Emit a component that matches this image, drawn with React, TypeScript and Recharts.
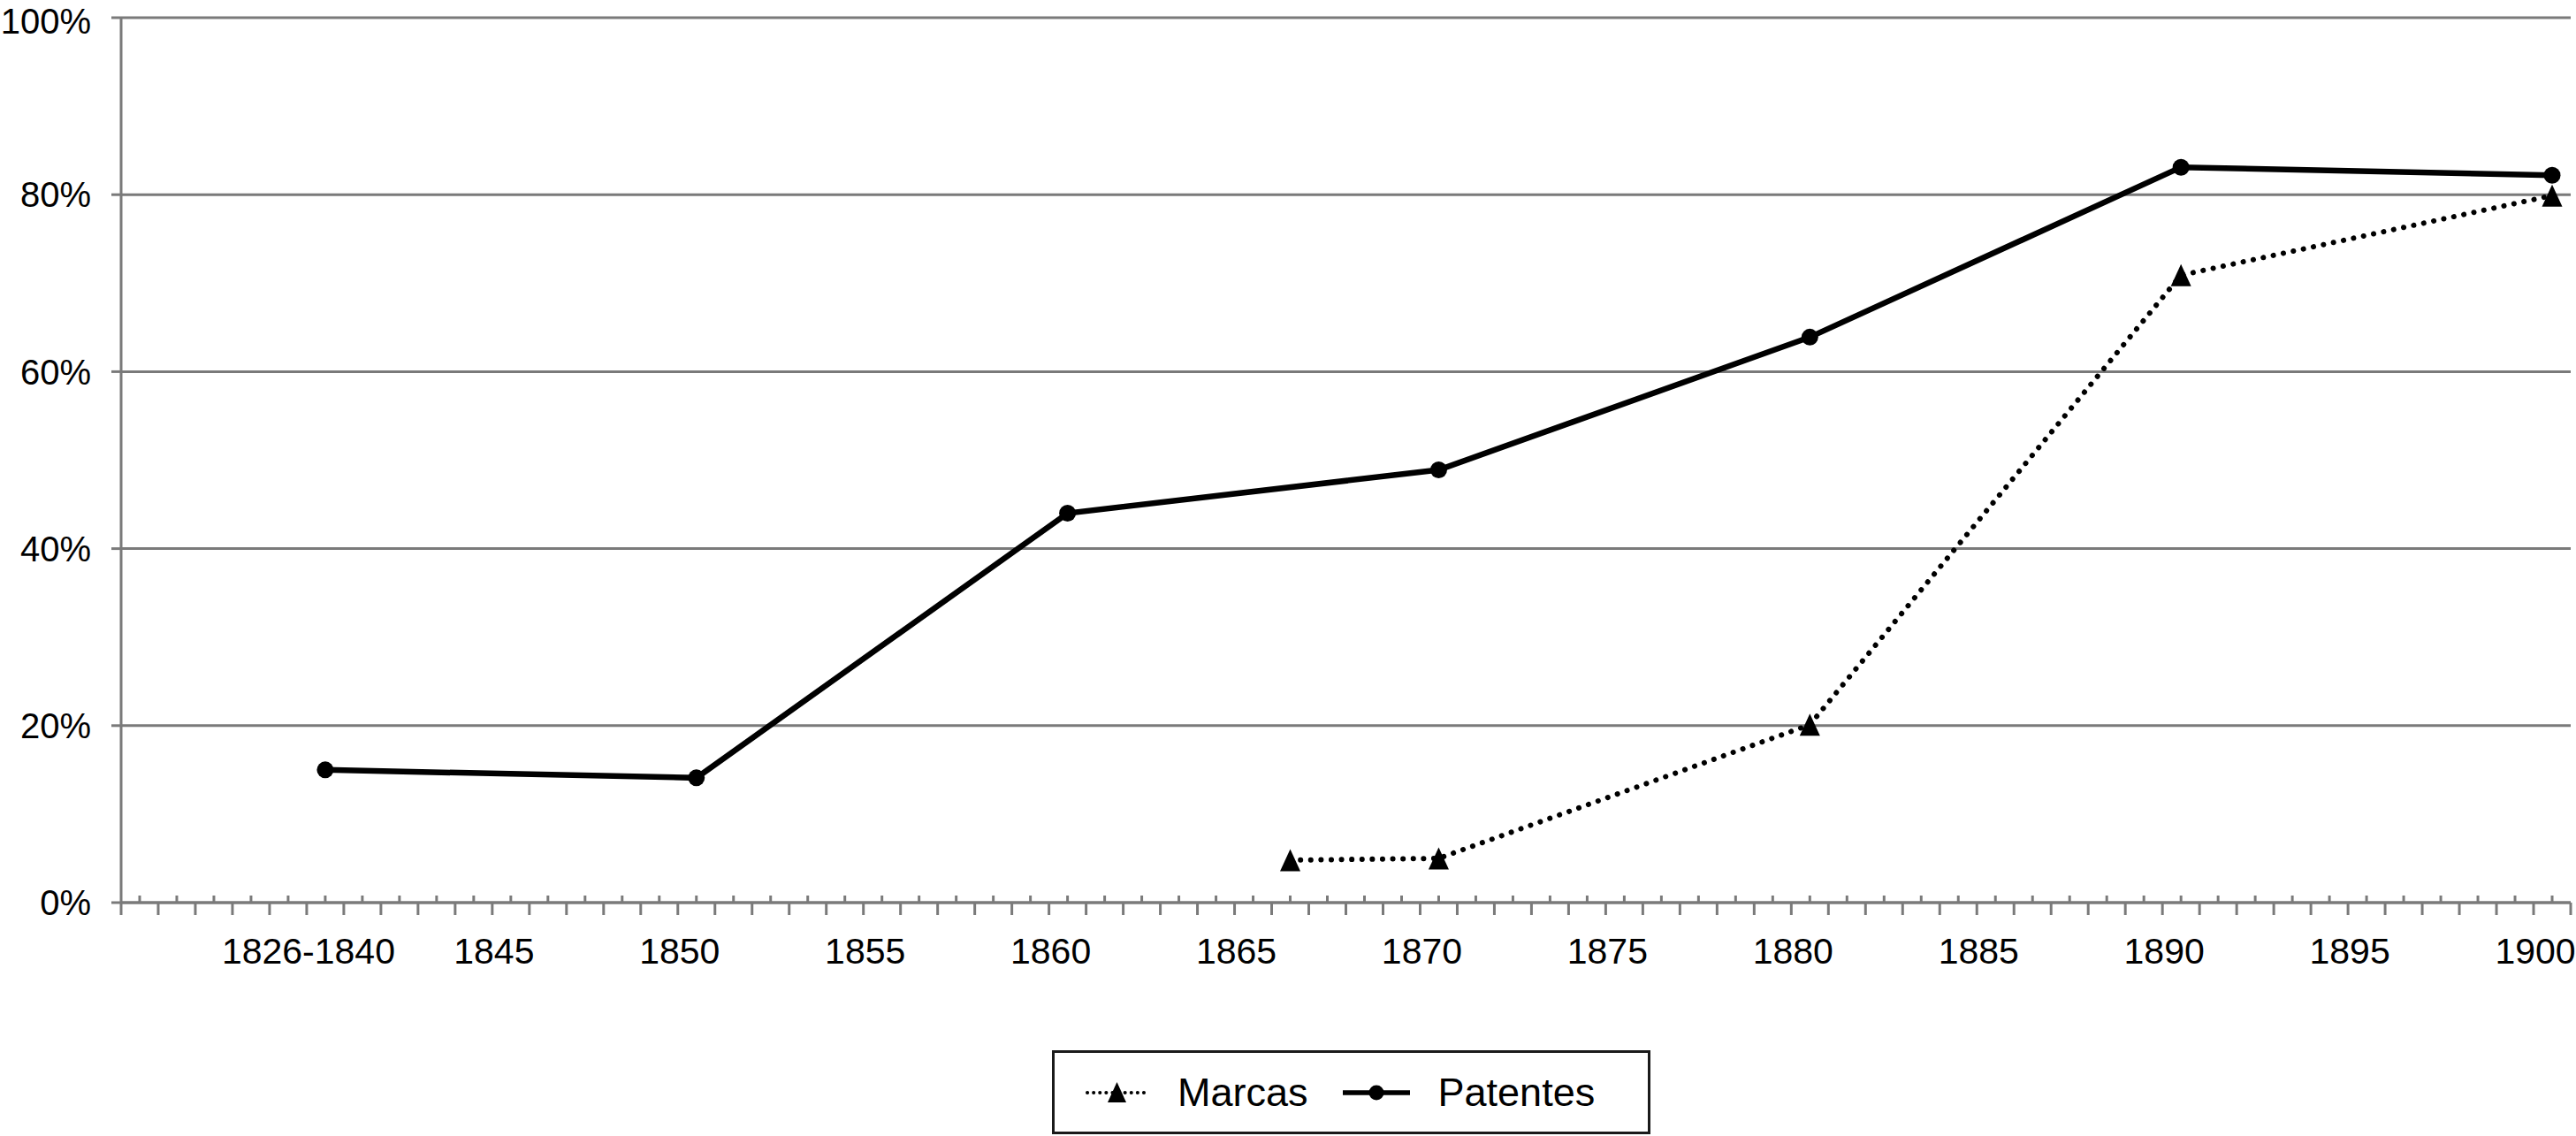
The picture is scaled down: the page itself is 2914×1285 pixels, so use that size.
import React from 'react';
import { LineChart, Line, XAxis, YAxis, CartesianGrid } from 'recharts';

// Patentes: solid line, circle markers
const patentYears = [1840, 1850, 1860, 1870, 1880, 1890, 1900];
const patentValues = [15.0, 14.1, 44.0, 48.9, 63.9, 83.1, 82.2];

// Marcas: dotted line, triangle markers
const markYears = [1866, 1870, 1880, 1890, 1900];
const markValues = [4.8, 5.0, 20.1, 70.9, 79.9];

// x labels (category year -> shown text)
const labelYears = [1840, 1845, 1850, 1855, 1860, 1865, 1870, 1875, 1880, 1885, 1890, 1895, 1900];
const labelTexts = ['1826-1840', '1845', '1850', '1855', '1860', '1865', '1870', '1875', '1880', '1885', '1890', '1895', '1900'];

const yTicks = [0, 20, 40, 60, 80, 100];

const firstYear = 1835;
const lastYear = 1900;

const patentData = patentYears.map((year, i) => ({ year, value: patentValues[i] }));
const markData = markYears.map((year, i) => ({ year, value: markValues[i] }));

// a tick on each year (category centre) and on each boundary between years
const axisTicks: number[] = [];
for (let y = firstYear; y <= lastYear; y++) {
  axisTicks.push(y - 0.5, y);
}
axisTicks.push(lastYear + 0.5);

const FONT = '"Liberation Sans", Arial, Helvetica, sans-serif';
const GRID = '#7a7a7a';

const XTick = (props: any) => {
  const { x, y, payload } = props;
  const v = payload.value as number;
  const isBoundary = !Number.isInteger(v);
  const idx = labelYears.indexOf(v);
  return (
    <g>
      {isBoundary ? (
        <line x1={x} x2={x} y1={y} y2={y + 14} stroke={GRID} strokeWidth={3} />
      ) : (
        <line x1={x} x2={x} y1={y - 8} y2={y} stroke={GRID} strokeWidth={3} />
      )}
      {idx >= 0 && (
        <text x={x - 19} y={y + 69} textAnchor="middle" fontSize={41} fontFamily={FONT} fill="#000">
          {labelTexts[idx]}
        </text>
      )}
    </g>
  );
};

const CircleDot = (props: any) => {
  const { cx, cy, index } = props;
  if (cx == null || cy == null) return <g key={`c${index}`} />;
  return <circle key={`c${index}`} cx={cx} cy={cy} r={9.5} fill="#000" />;
};

const TriangleDot = (props: any) => {
  const { cx, cy, index } = props;
  if (cx == null || cy == null) return <g key={`t${index}`} />;
  const w = 23;
  const h = 25;
  return (
    <polygon
      key={`t${index}`}
      points={`${cx},${cy - h / 2} ${cx - w / 2},${cy + h / 2} ${cx + w / 2},${cy + h / 2}`}
      fill="#000"
    />
  );
};

const LegendBox = () => (
  <div
    style={{
      position: 'absolute',
      left: 1190,
      top: 1188,
      width: 677,
      height: 95,
      boxSizing: 'border-box',
      border: '3px solid #1a1a1a',
      display: 'flex',
      alignItems: 'center',
      paddingLeft: 34,
      fontFamily: FONT,
      fontSize: 45,
      color: '#000',
      background: '#fff',
    }}
  >
    <svg width={73} height={30} style={{ display: 'block' }}>
      <line x1={3} x2={70} y1={15} y2={15} stroke="#000" strokeWidth={4} strokeDasharray="0.1 7" strokeLinecap="round" />
      <polygon points="36.5,3 26,26 47,26" fill="#000" />
    </svg>
    <span style={{ marginLeft: 32 }}>Marcas</span>
    <svg width={76} height={30} style={{ display: 'block', marginLeft: 39 }}>
      <line x1={0} x2={76} y1={15} y2={15} stroke="#000" strokeWidth={5.5} strokeLinecap="round" />
      <circle cx={38} cy={15} r={8.5} fill="#000" />
    </svg>
    <span style={{ marginLeft: 32 }}>Patentes</span>
  </div>
);

export default function App() {
  return (
    <div style={{ position: 'absolute', left: 0, top: 0, width: 2914, height: 1285, background: '#fff' }}>
      <LineChart width={2914} height={1285} margin={{ top: 20, right: 6, bottom: 164, left: 0 }}>
        <CartesianGrid horizontal vertical={false} stroke={GRID} strokeWidth={3} />
        <XAxis
          dataKey="year"
          type="number"
          domain={[firstYear - 0.5, lastYear + 0.5]}
          ticks={axisTicks}
          interval={0}
          tick={<XTick />}
          tickLine={false}
          tickSize={0}
          tickMargin={0}
          axisLine={{ stroke: GRID, strokeWidth: 3 }}
          height={100}
          allowDuplicatedCategory={false}
        />
        <YAxis
          type="number"
          domain={[0, 100]}
          ticks={yTicks}
          width={137}
          tickSize={11}
          tickMargin={23}
          tickFormatter={(v: number) => `${v}%`}
          tick={{ fontSize: 40, fontFamily: FONT, fill: '#000' }}
          tickLine={{ stroke: GRID, strokeWidth: 3 }}
          axisLine={{ stroke: GRID, strokeWidth: 3 }}
        />
        <Line
          data={markData}
          dataKey="value"
          name="Marcas"
          stroke="#000"
          strokeWidth={6}
          strokeDasharray="0.1 11.5"
          strokeLinecap="round"
          dot={TriangleDot}
          activeDot={false}
          isAnimationActive={false}
        />
        <Line
          data={patentData}
          dataKey="value"
          name="Patentes"
          stroke="#000"
          strokeWidth={6.5}
          dot={CircleDot}
          activeDot={false}
          isAnimationActive={false}
        />
      </LineChart>
      <LegendBox />
    </div>
  );
}
